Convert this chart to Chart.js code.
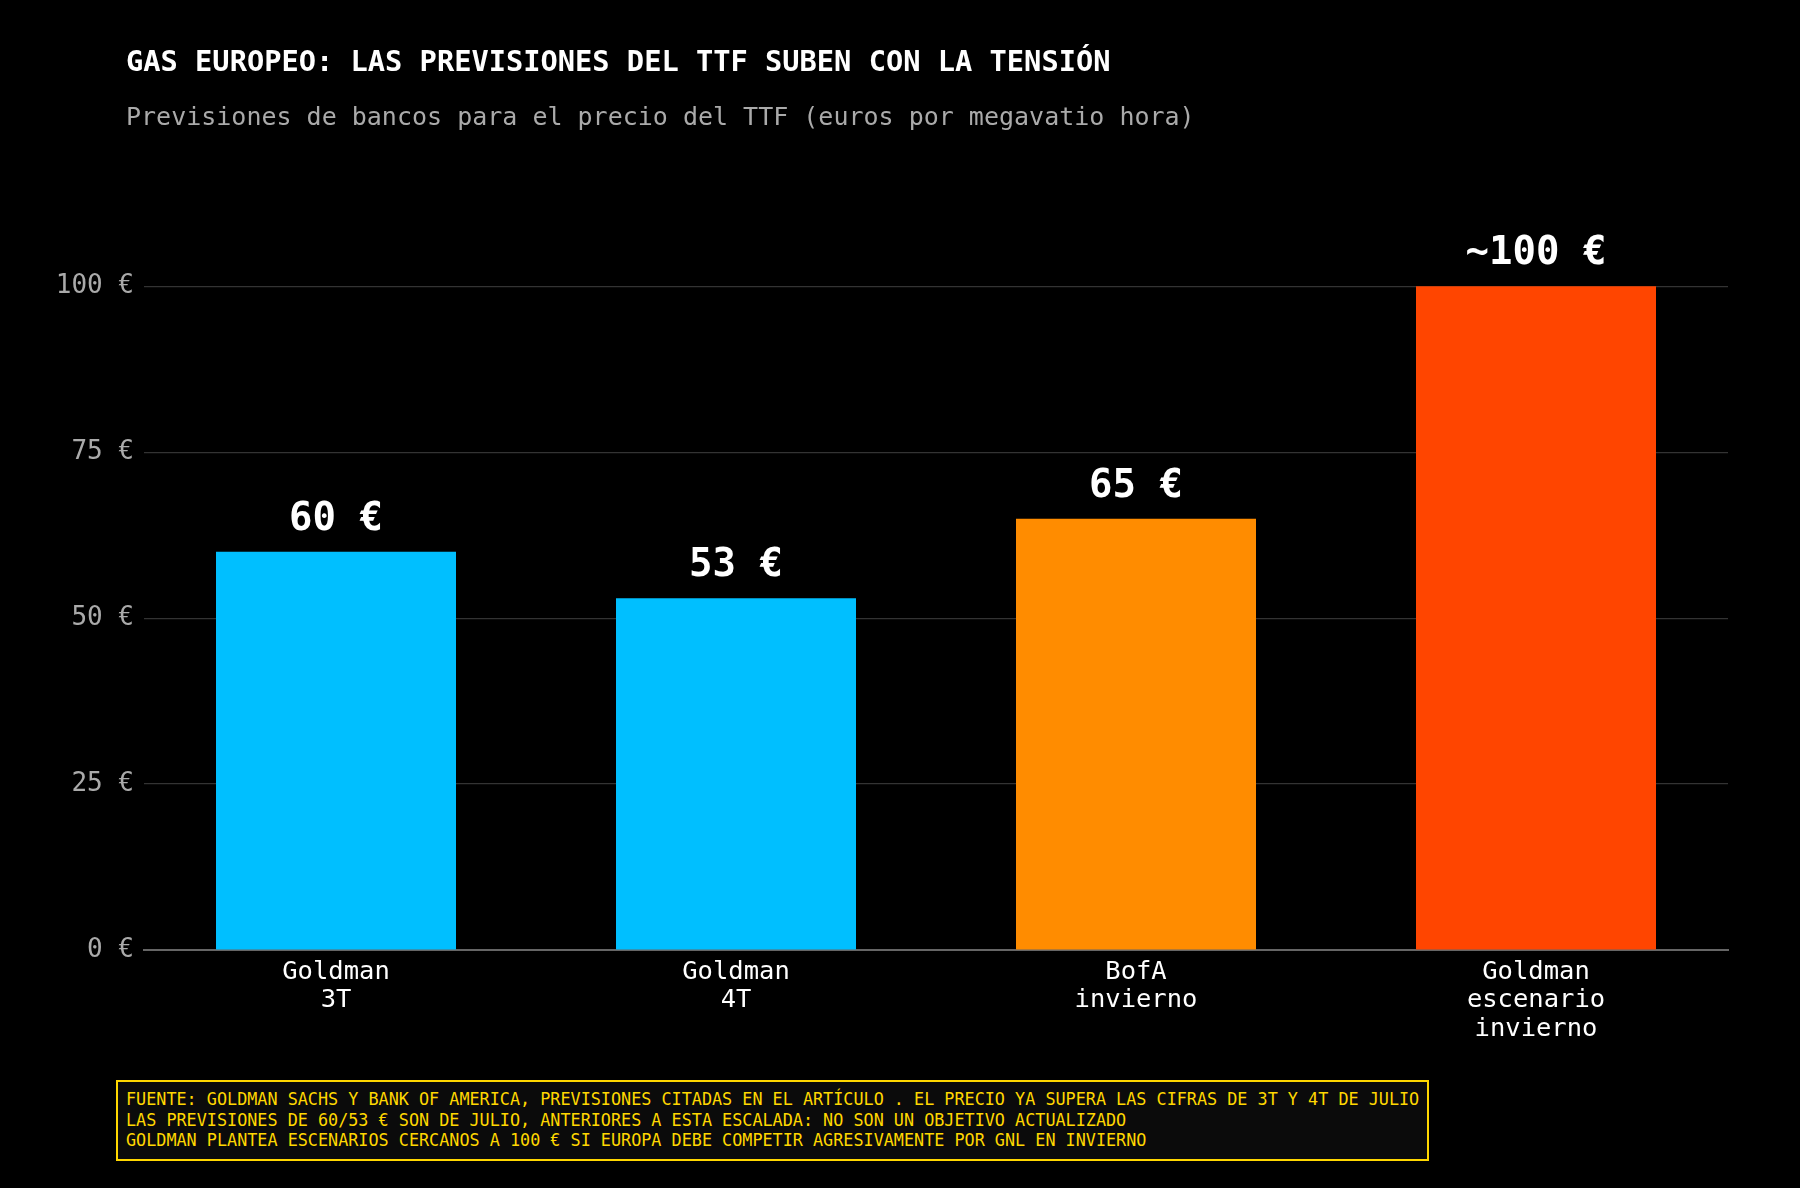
<!DOCTYPE html>
<html lang="es">
<head>
<meta charset="utf-8">
<title>Gas europeo: previsiones del TTF</title>
<script src="https://cdn.jsdelivr.net/npm/chart.js@4.4.1/dist/chart.umd.min.js"></script>
<style>
    html, body { margin: 0; padding: 0; background: #000; }
    body { width: 1800px; height: 1188px; position: relative; overflow: hidden; font-family: "DejaVu Sans Mono", monospace; }
    .title { position: absolute; left: 126px; top: 47px; font-size: 28.7px; line-height: 1; font-weight: bold; color: #fff; white-space: pre; }
    .subtitle { position: absolute; left: 126px; top: 104px; font-size: 25px; line-height: 1; color: #aaaaaa; white-space: pre; }
    .chart-wrap { position: absolute; left: 0; top: 0; width: 1800px; height: 1188px; }
    .note { position: absolute; left: 116px; top: 1080px; padding: 7px 8px 8px 8px; border: 2px solid #FFD700; background: #0b0b0b;
        color: #FFD700; font-size: 16.8px; line-height: 20.5px; white-space: pre; }
</style>
</head>
<body>
<div class="chart-wrap"><canvas id="chart-ttf"></canvas></div>
<div class="title">GAS EUROPEO: LAS PREVISIONES DEL TTF SUBEN CON LA TENSIÓN</div>
<div class="subtitle">Previsiones de bancos para el precio del TTF (euros por megavatio hora)</div>
<div class="note">FUENTE: GOLDMAN SACHS Y BANK OF AMERICA, PREVISIONES CITADAS EN EL ARTÍCULO . EL PRECIO YA SUPERA LAS CIFRAS DE 3T Y 4T DE JULIO
LAS PREVISIONES DE 60/53 € SON DE JULIO, ANTERIORES A ESTA ESCALADA: NO SON UN OBJETIVO ACTUALIZADO
GOLDMAN PLANTEA ESCENARIOS CERCANOS A 100 € SI EUROPA DEBE COMPETIR AGRESIVAMENTE POR GNL EN INVIERNO</div>
<script>
    // data
    const categories = [['Goldman', '3T'], ['Goldman', '4T'], ['BofA', 'invierno'], ['Goldman', 'escenario', 'invierno']];
    const forecasts = [60, 53, 65, 100];
    const valueLabels = ['60 €', '53 €', '65 €', '~100 €'];
    const barColors = ['#00BFFF', '#00BFFF', '#FF8C00', '#FF4500'];
    const yTicks = [0, 25, 50, 75, 100];

    const FONT = '"DejaVu Sans Mono", monospace';

    // value label above each bar
    const barValueLabels = {
        id: 'barValueLabels',
        afterDatasetsDraw(chart) {
            const ctx = chart.ctx;
            const meta = chart.getDatasetMeta(0);
            ctx.save();
            ctx.fillStyle = '#ffffff';
            ctx.font = 'bold 39px ' + FONT;
            ctx.textAlign = 'center';
            ctx.textBaseline = 'alphabetic';
            meta.data.forEach((bar, i) => {
                ctx.fillText(valueLabels[i], bar.x, bar.y - 22);
            });
            ctx.restore();
        }
    };

    const ctx = document.getElementById('chart-ttf').getContext('2d');
    new Chart(ctx, {
        type: 'bar',
        data: {
            datasets: [{
                label: 'TTF',
                data: forecasts.map((v, i) => ({ x: i, y: v })),
                backgroundColor: barColors,
                borderWidth: 0,
                categoryPercentage: 1,
                barPercentage: 0.6
            }]
        },
        options: {
            responsive: true,
            maintainAspectRatio: false,
            animation: false,
            layout: { padding: { top: 220, left: 0, right: 72, bottom: 138 } },
            plugins: {
                legend: { display: false },
                tooltip: { enabled: false }
            },
            scales: {
                x: {
                    type: 'linear',
                    offset: false,
                    min: -0.48,
                    max: 3.48,
                    afterBuildTicks: scale => { scale.ticks = categories.map((_, i) => ({ value: i })); },
                    afterFit: scale => { scale.height = 100; },
                    grid: { display: false },
                    border: { display: true, color: '#666666', width: 2 },
                    ticks: {
                        color: '#ffffff',
                        font: { family: FONT, size: 25.5, lineHeight: 1.12 },
                        padding: 0,
                        maxRotation: 0,
                        autoSkip: false,
                        callback: v => categories[v]
                    }
                },
                y: {
                    min: 0,
                    max: 110,
                    afterBuildTicks: scale => { scale.ticks = yTicks.map(v => ({ value: v })); },
                    afterFit: scale => { scale.width = 144; },
                    grid: {
                        color: ctx => ctx.tick && ctx.tick.value === 0 ? 'rgba(0,0,0,0)' : '#333333',
                        lineWidth: 1.2,
                        drawTicks: false
                    },
                    border: { display: false },
                    ticks: {
                        color: '#aaaaaa',
                        font: { family: FONT, size: 26 },
                        padding: 10,
                        callback: v => v + ' €'
                    }
                }
            }
        },
        plugins: [barValueLabels]
    });
</script>
</body>
</html>
